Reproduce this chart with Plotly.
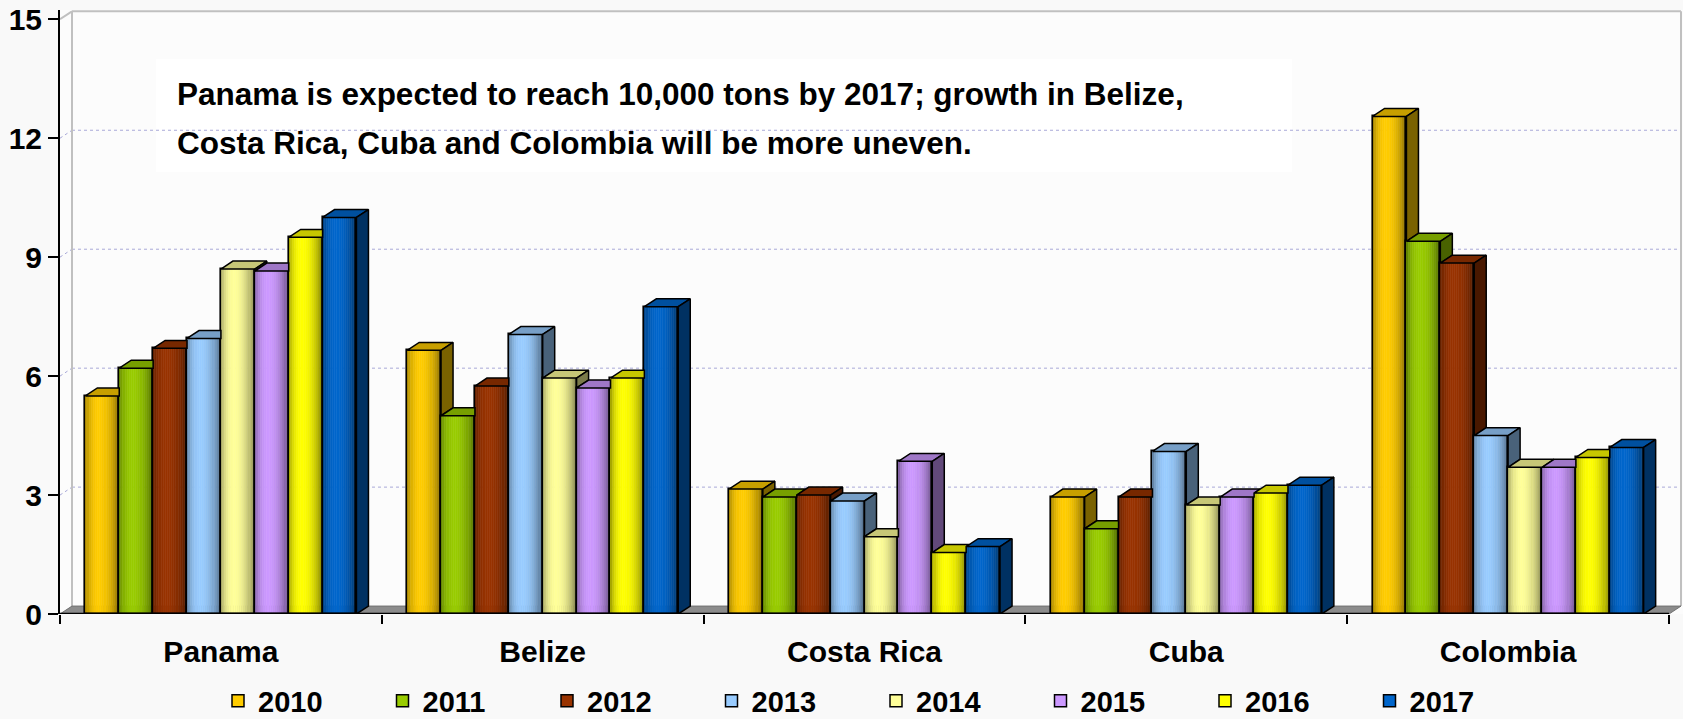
import numpy as np
import plotly.graph_objects as go

# ---- data (thousand tons) ----
countries = ["Panama", "Belize", "Costa Rica", "Cuba", "Colombia"]
years = ["2010", "2011", "2012", "2013", "2014", "2015", "2016", "2017"]

v2010 = [5.5, 6.65, 3.15, 2.95, 12.55]
v2011 = [6.2, 5.0, 2.95, 2.15, 9.4]
v2012 = [6.7, 5.75, 3.0, 2.95, 8.85]
v2013 = [6.95, 7.05, 2.85, 4.1, 4.5]
v2014 = [8.7, 5.95, 1.95, 2.75, 3.7]
v2015 = [8.65, 5.7, 3.85, 2.95, 3.7]
v2016 = [9.5, 5.95, 1.55, 3.05, 3.95]
v2017 = [10.0, 7.75, 1.7, 3.25, 4.2]
series = [v2010, v2011, v2012, v2013, v2014, v2015, v2016, v2017]

y_ticks = [0, 3, 6, 9, 12, 15]
note_lines = [
    "Panama is expected to reach 10,000 tons by 2017; growth in Belize,",
    "Costa Rica, Cuba and Colombia will be more uneven.",
]

# ---- styling ----
colors = ["#FFCC00", "#99CC00", "#993300", "#99CCFF",
          "#FFFF99", "#CC99FF", "#FFFF00", "#0066CC"]
FONT = "Liberation Sans, Arial, sans-serif"

W, H = 1683, 719
M_L, M_R, M_T, M_B = 60, 0, 10, 105
X_MIN, X_MAX = -0.5, 4.5435
Y_MAX = 15.233

BAR_W = 0.1053              # width of one column (category = 1 unit)
GROUP_W = BAR_W * len(years)
DX, DY = 0.0373, 0.2        # oblique depth offset of the 3-D columns
N_STRIPS = 16               # vertical strips used for the cylinder-like shading


def hex_rgb(h):
    h = h.lstrip("#")
    return [int(h[i:i + 2], 16) for i in (0, 2, 4)]


def scaled(h, f):
    r, g, b = [max(0, min(255, int(round(c * f)))) for c in hex_rgb(h)]
    return f"rgb({r},{g},{b})"


def shade_profile(t):
    # dark edges, bright band slightly left of centre
    return 0.50 + 0.50 * np.sin(np.pi * t ** 0.8) ** 0.7


def paper_x(px):
    return (px - M_L) / (W - M_L - M_R)


def paper_y(py):
    return (H - M_B - py) / (H - M_T - M_B)


fig = go.Figure()

# ---- front faces: shaded strips ----
for i, (vals, col) in enumerate(zip(series, colors)):
    xs, ys, cs = [], [], []
    sw = BAR_W / N_STRIPS
    for j, v in enumerate(vals):
        xl = j - GROUP_W / 2 + i * BAR_W
        for k in range(N_STRIPS):
            t = (k + 0.5) / N_STRIPS
            xs.append(xl + (k + 0.5) * sw)
            ys.append(v)
            cs.append(scaled(col, shade_profile(t)))
    fig.add_trace(go.Bar(
        x=xs, y=ys, width=sw, showlegend=False, hoverinfo="skip",
        marker=dict(color=cs, line=dict(color=cs, width=0.6)),
    ))

# ---- front faces: outlines ----
for i, (vals, col) in enumerate(zip(series, colors)):
    xc = [j - GROUP_W / 2 + (i + 0.5) * BAR_W for j in range(len(vals))]
    fig.add_trace(go.Bar(
        x=xc, y=vals, width=BAR_W, showlegend=False,
        name=years[i], customdata=[countries[j] for j in range(len(vals))],
        hovertemplate="%{customdata} " + years[i] + ": %{y}<extra></extra>",
        marker=dict(color="rgba(0,0,0,0)", line=dict(color="black", width=1.6)),
    ))

# ---- top and side faces (only the parts not hidden by the next column) ----
for i, (vals, col) in enumerate(zip(series, colors)):
    tx, ty, sx, sy = [], [], [], []
    for j, v in enumerate(vals):
        xl = j - GROUP_W / 2 + i * BAR_W
        xr = xl + BAR_W
        nxt = series[i + 1][j] if i + 1 < len(series) else None
        # top face
        if nxt is not None and nxt > v:
            c = min(nxt, v + DY)
            pts = [(xl, v), (xr, v), (xr, c),
                   (xr + (v + DY - c) * DX / DY, v + DY), (xl + DX, v + DY)]
        else:
            pts = [(xl, v), (xr, v), (xr + DX, v + DY), (xl + DX, v + DY)]
        pts.append(pts[0])
        tx += [p[0] for p in pts] + [None]
        ty += [p[1] for p in pts] + [None]
        # right side face
        low = 0 if nxt is None else nxt
        if low < v:
            pts = [(xr, low), (xr, v), (xr + DX, v + DY), (xr + DX, low + DY), (xr, low)]
            sx += [p[0] for p in pts] + [None]
            sy += [p[1] for p in pts] + [None]
    fig.add_trace(go.Scatter(
        x=tx, y=ty, mode="lines", fill="toself", fillcolor=scaled(col, 0.78),
        line=dict(color="black", width=1.5), showlegend=False, hoverinfo="skip"))
    if sx:
        fig.add_trace(go.Scatter(
            x=sx, y=sy, mode="lines", fill="toself", fillcolor=scaled(col, 0.48),
            line=dict(color="black", width=1.5), showlegend=False, hoverinfo="skip"))

# ---- legend entries ----
for yr, col in zip(years, colors):
    fig.add_trace(go.Bar(
        x=[None], y=[None], name=yr,
        marker=dict(color=col, line=dict(color="black", width=1.5))))

# ---- 3-D frame: back wall, gridlines, floor ----
shapes = []
wall = "#c0c0c0"
xb0, xb1 = X_MIN + DX, 4.5 + DX
for g in y_ticks[1:-1]:
    shapes.append(dict(type="line", xref="x", yref="y", x0=xb0, x1=xb1,
                       y0=g + DY, y1=g + DY, layer="below",
                       line=dict(color="#a9a9d8", width=1, dash="dot")))
    shapes.append(dict(type="line", xref="x", yref="y", x0=X_MIN, x1=xb0,
                       y0=g, y1=g + DY, layer="below",
                       line=dict(color="#a9a9d8", width=1, dash="dot")))
top = y_ticks[-1]
shapes += [
    dict(type="line", xref="x", yref="y", x0=xb0, x1=xb1, y0=top + DY, y1=top + DY,
         layer="below", line=dict(color=wall, width=2)),
    dict(type="line", xref="x", yref="y", x0=xb0, x1=xb0, y0=DY, y1=top + DY,
         layer="below", line=dict(color=wall, width=2)),
    dict(type="line", xref="x", yref="y", x0=xb1, x1=xb1, y0=DY, y1=top + DY,
         layer="below", line=dict(color=wall, width=2)),
    dict(type="line", xref="x", yref="y", x0=X_MIN, x1=xb0, y0=top, y1=top + DY,
         layer="below", line=dict(color=wall, width=2)),
    dict(type="path", xref="x", yref="y", layer="below",
         path=f"M {X_MIN},0 L 4.5,0 L {xb1},{DY} L {xb0},{DY} Z",
         fillcolor="#8c8c8c", line=dict(color="#707070", width=1)),
    # white note box
    dict(type="rect", xref="paper", yref="paper", layer="below",
         x0=paper_x(156), x1=paper_x(1292), y0=paper_y(172), y1=paper_y(59),
         fillcolor="white", line=dict(width=0)),
]

annotations = []
for line, py in zip(note_lines, [94, 143]):
    annotations.append(dict(
        text=f"<b>{line}</b>", xref="paper", yref="paper",
        x=paper_x(175), y=paper_y(py), xanchor="left", yanchor="middle",
        showarrow=False, font=dict(family=FONT, size=31.5, color="black")))

fig.update_layout(
    width=W, height=H,
    margin=dict(l=M_L, r=M_R, t=M_T, b=M_B, pad=0, autoexpand=False),
    paper_bgcolor="#f9f9f9", plot_bgcolor="#fcfcfc",
    barmode="overlay", bargap=0,
    shapes=shapes, annotations=annotations,
    font=dict(family=FONT, color="black"),
    legend=dict(orientation="h", x=paper_x(218), y=paper_y(701),
                xanchor="left", yanchor="middle",
                entrywidth=119.5, entrywidthmode="pixels",
                font=dict(family=FONT, size=29, weight="bold"),
                bgcolor="rgba(0,0,0,0)", traceorder="normal"),
    xaxis=dict(range=[X_MIN, X_MAX], tickmode="array",
               tickvals=list(range(len(countries))), ticktext=countries,
               ticks="", showgrid=False, zeroline=False, automargin=False,
               showline=False, ticklabelstandoff=17,
               tickfont=dict(family=FONT, size=30, weight="bold"),
               minor=dict(tickmode="array",
                          tickvals=[k - 0.5 for k in range(len(countries) + 1)],
                          ticks="outside", ticklen=9, tickwidth=2,
                          tickcolor="black", showgrid=False)),
    yaxis=dict(range=[0, Y_MAX], tickmode="array", tickvals=y_ticks,
               ticks="outside", ticklen=10, tickwidth=2, tickcolor="black",
               showline=True, linecolor="black", linewidth=2, automargin=False,
               showgrid=False, zeroline=False,
               tickfont=dict(family=FONT, size=30, weight="bold")),
)

# front baseline of the floor
fig.add_shape(type="line", xref="x", yref="y", x0=X_MIN, x1=4.5, y0=0, y1=0,
              line=dict(color="black", width=2.5), layer="above")

fig.write_html("out.html")
